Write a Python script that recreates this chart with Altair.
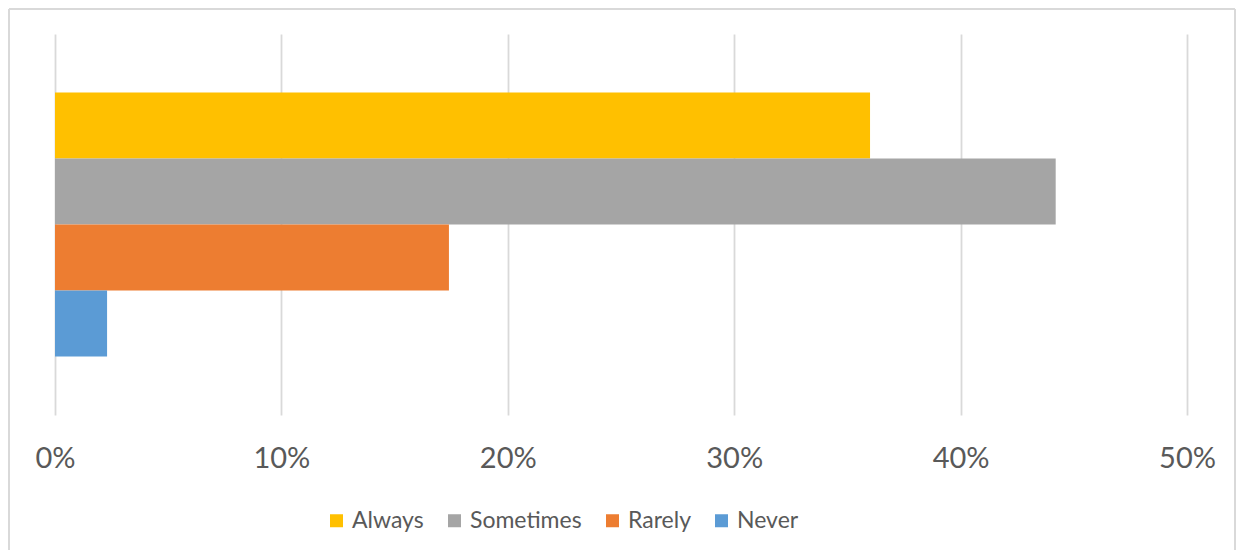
import altair as alt
import pandas as pd

series = ["Always", "Sometimes", "Rarely", "Never"]
values = [0.360, 0.442, 0.174, 0.023]
colors = ["#FFC000", "#A5A5A5", "#ED7D31", "#5B9BD5"]
tick_values = [0, 0.1, 0.2, 0.3, 0.4, 0.5]

df = pd.DataFrame({"series": series, "value": values})

PW, PH = 1132, 381
FONT = "Lato"
TXT = "#595959"

bars = alt.Chart(df).mark_bar(clip=False).encode(
    x=alt.X("value:Q",
            scale=alt.Scale(domain=[0, 0.5], nice=False, zero=True),
            axis=alt.Axis(values=tick_values, format=".0%", title=None,
                          domain=False, ticks=False, grid=True,
                          gridColor="#D9D9D9", gridWidth=1.8,
                          labelFont=FONT, labelFontSize=29, labelColor=TXT,
                          labelFlush=False, labelOverlap=False,
                          labelPadding=29, labelBaseline="top")),
    y=alt.Y("series:N", sort=series, axis=None,
            scale=alt.Scale(paddingInner=0, paddingOuter=0.886)),
    color=alt.Color("series:N", sort=series,
                    scale=alt.Scale(domain=series, range=colors),
                    legend=alt.Legend(title=None, orient="none", direction="horizontal",
                                      legendX=270, legendY=475, columns=4,
                                      symbolType="square", symbolSize=169,
                                      symbolStrokeWidth=0, labelFont=FONT,
                                      labelFontSize=23, labelColor=TXT,
                                      labelOffset=4, columnPadding=19)),
)

frame_df = pd.DataFrame({"k": [0]})
left = alt.Chart(frame_df).mark_rule(color="#D9D9D9", strokeWidth=2).encode(
    x=alt.value(-46), y=alt.value(-25), y2=alt.value(516))
top = alt.Chart(frame_df).mark_rule(color="#D9D9D9", strokeWidth=2).encode(
    x=alt.value(-46), x2=alt.value(1180), y=alt.value(-25))
right = alt.Chart(frame_df).mark_rule(color="#D9D9D9", strokeWidth=2).encode(
    x=alt.value(1180), y=alt.value(-25), y2=alt.value(516))

chart = alt.layer(bars, left, top, right).properties(
    width=PW, height=PH, padding=0,
    autosize=alt.AutoSizeParams(type="pad"),
).configure(background="white").configure_view(stroke=None)

chart.save("out.html", embed_options={"renderer": "svg", "actions": False})
